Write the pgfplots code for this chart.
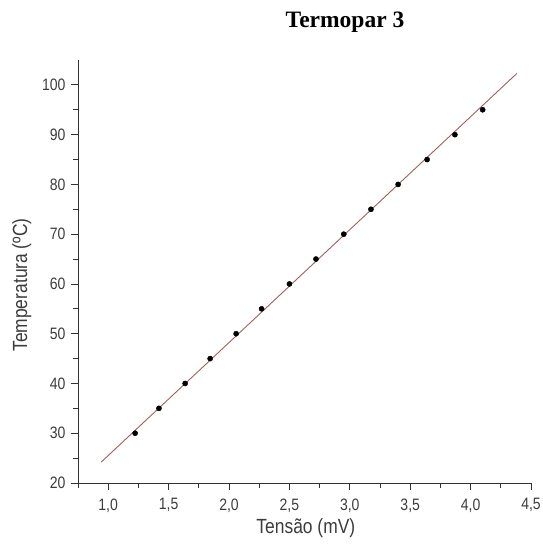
\documentclass[border=0pt]{standalone}
\usepackage{pgfplots}
\pgfplotsset{compat=1.18}
\usepackage{fontspec}
\setmainfont{Liberation Sans}[FakeStretch=0.85]
\newfontfamily\titlefont{Liberation Serif}
\definecolor{axgray}{RGB}{50,50,50}
\definecolor{txtgray}{RGB}{60,60,60}
\definecolor{fitred}{RGB}{160,95,95}
\begin{document}
\begin{tikzpicture}[x=1pt,y=1pt]
\begin{axis}[
  at={(0,0)}, anchor=south west,
  scale only axis, width=453pt, height=423pt,
  xmin=0.75, xmax=4.5, ymin=20, ymax=105,
  axis lines=left,
  x axis line style={-, axgray, line width=0.8pt},
  y axis line style={-, axgray, line width=0.8pt},
  tick align=outside,
  major tick length=7pt, minor tick length=5pt,
  tick style={axgray, line width=0.8pt},
  xtick={1,1.5,...,4.5},
  minor xtick={0.75,1.25,...,4.3},
  ytick={20,30,...,100},
  minor ytick={25,35,...,95},
  /pgf/number format/assume math mode=true,
  xticklabel style={/pgf/number format/.cd, use comma, fixed, fixed zerofill, precision=1, /tikz/.cd, yshift=-5pt},
  yticklabel style={/pgf/number format/.cd, fixed, precision=0, /tikz/.cd, xshift=-2pt},
  ticklabel style={font=\fontsize{16.5}{19}\selectfont, text=txtgray},
  xlabel={Tensão (mV)}, ylabel={Temperatura (ºC)},
  label style={font=\fontsize{20.5}{24}\selectfont, text=txtgray},
  xlabel style={at={(axis description cs:0.503,-0.106)}, anchor=center},
  ylabel style={at={(axis description cs:-0.124,0.468)}, anchor=center},
  clip=false,
]
\addplot[fitred, line width=0.9pt] coordinates {(0.942,24.2) (4.383,102.3)};
\addplot[only marks, mark=*, mark size=2.6pt, black] coordinates {
(1.223,30) (1.42,35) (1.637,40) (1.844,45) (2.059,50) (2.27,55) (2.50,60)
(2.72,65) (2.95,70) (3.175,75) (3.40,80) (3.64,85) (3.87,90) (4.10,95)};
\end{axis}
\node at (267pt,461pt) {\titlefont\bfseries\fontsize{23.5}{27}\selectfont Termopar 3};
\pgfresetboundingbox
\path[use as bounding box] (-78pt,-68pt) rectangle (464pt,483pt);
\end{tikzpicture}
\end{document}
